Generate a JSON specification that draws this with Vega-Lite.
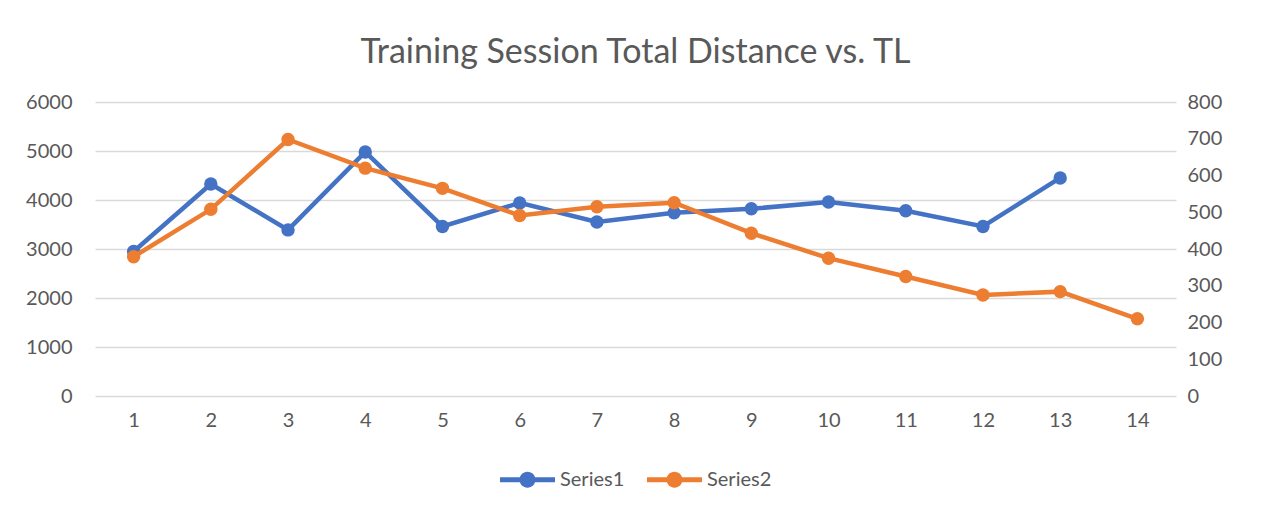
{
  "$schema": "https://vega.github.io/schema/vega-lite/v6.json",
  "width": 1081,
  "height": 294,
  "autosize": "none",
  "padding": {"left": 95, "top": 102, "right": 89, "bottom": 123},
  "background": "white",
  "title": {
    "text": "Training Session Total Distance vs. TL",
    "font": "Lato",
    "fontSize": 34,
    "fontWeight": "normal",
    "color": "#595959",
    "anchor": "middle",
    "baseline": "alphabetic",
    "offset": -5
  },
  "data": {
    "values": [
      {"x": 1, "series": "Series1", "value": 2950},
      {"x": 2, "series": "Series1", "value": 4325},
      {"x": 3, "series": "Series1", "value": 3390},
      {"x": 4, "series": "Series1", "value": 4980},
      {"x": 5, "series": "Series1", "value": 3460},
      {"x": 6, "series": "Series1", "value": 3940},
      {"x": 7, "series": "Series1", "value": 3550},
      {"x": 8, "series": "Series1", "value": 3740},
      {"x": 9, "series": "Series1", "value": 3820},
      {"x": 10, "series": "Series1", "value": 3960},
      {"x": 11, "series": "Series1", "value": 3780},
      {"x": 12, "series": "Series1", "value": 3460},
      {"x": 13, "series": "Series1", "value": 4450},
      {"x": 1, "series": "Series2", "value": 379},
      {"x": 2, "series": "Series2", "value": 508},
      {"x": 3, "series": "Series2", "value": 698},
      {"x": 4, "series": "Series2", "value": 620},
      {"x": 5, "series": "Series2", "value": 565},
      {"x": 6, "series": "Series2", "value": 491},
      {"x": 7, "series": "Series2", "value": 515},
      {"x": 8, "series": "Series2", "value": 526},
      {"x": 9, "series": "Series2", "value": 443},
      {"x": 10, "series": "Series2", "value": 375},
      {"x": 11, "series": "Series2", "value": 325},
      {"x": 12, "series": "Series2", "value": 275},
      {"x": 13, "series": "Series2", "value": 284},
      {"x": 14, "series": "Series2", "value": 210}
    ]
  },
  "encoding": {
    "x": {
      "field": "x",
      "type": "ordinal",
      "scale": {"type": "point", "padding": 0.5},
      "axis": {
        "title": null,
        "labelAngle": 0,
        "domain": false,
        "ticks": false,
        "grid": false,
        "labelPadding": 14,
        "labelFontSize": 20,
        "labelFont": "Lato",
        "labelColor": "#595959"
      }
    },
    "color": {
      "field": "series",
      "type": "nominal",
      "scale": {"domain": ["Series1", "Series2"], "range": ["#4472C4", "#ED7D31"]},
      "legend": {
        "title": null,
        "orient": "bottom",
        "direction": "horizontal",
        "symbolType": "M-1,-0.09 H1 V0.09 H-1 Z M-0.29,0 A0.29,0.29 0 1,1 0.29,0 A0.29,0.29 0 1,1 -0.29,0 Z",
        "symbolSize": 3025,
        "symbolStrokeWidth": 0,
        "symbolOpacity": 1,
        "labelFontSize": 20,
        "labelFont": "Lato",
        "labelColor": "#595959",
        "labelOffset": 5,
        "columnPadding": 22,
        "offset": 22
      }
    }
  },
  "layer": [
    {
      "transform": [{"filter": "datum.series === 'Series1'"}],
      "mark": {"type": "line", "strokeWidth": 4.5, "point": {"filled": true, "size": 180, "opacity": 1}},
      "encoding": {
        "y": {
          "field": "value",
          "type": "quantitative",
          "scale": {"domain": [0, 6000], "nice": false},
          "axis": {
            "title": null,
            "orient": "left",
            "values": [0, 1000, 2000, 3000, 4000, 5000, 6000],
            "format": "d",
            "domain": false,
            "ticks": false,
            "grid": true,
            "gridColor": "#d9d9d9",
            "gridWidth": 1.3,
            "labelPadding": 23,
            "labelFontSize": 20,
            "labelFont": "Lato",
            "labelColor": "#595959"
          }
        }
      }
    },
    {
      "transform": [{"filter": "datum.series === 'Series2'"}],
      "mark": {"type": "line", "strokeWidth": 4.5, "point": {"filled": true, "size": 180, "opacity": 1}},
      "encoding": {
        "y": {
          "field": "value",
          "type": "quantitative",
          "scale": {"domain": [0, 800], "nice": false},
          "axis": {
            "title": null,
            "orient": "right",
            "values": [0, 100, 200, 300, 400, 500, 600, 700, 800],
            "format": "d",
            "domain": false,
            "ticks": false,
            "grid": false,
            "labelPadding": 11,
            "labelFontSize": 20,
            "labelFont": "Lato",
            "labelColor": "#595959"
          }
        }
      }
    }
  ],
  "resolve": {"scale": {"y": "independent"}},
  "config": {
    "view": {"stroke": null},
    "legend": {"layout": {"bottom": {"anchor": "middle"}}}
  }
}
